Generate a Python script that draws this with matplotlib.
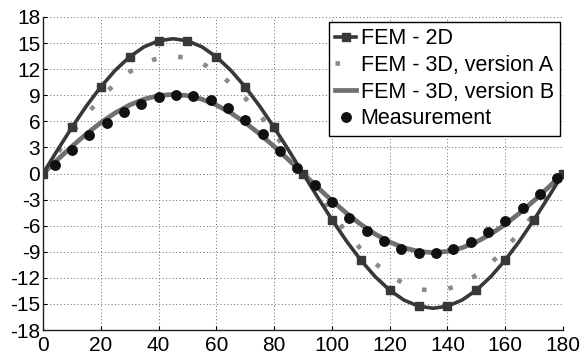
import matplotlib
matplotlib.use("Agg")
import matplotlib.pyplot as plt

plt.rcParams['font.family'] = ['Liberation Sans', 'DejaVu Sans']

# Angle grid for the simulated curves (degrees)
x_curve = [0, 5, 10, 15, 20, 25, 30, 35, 40, 45, 50, 55, 60, 65, 70, 75, 80, 85, 90,
           95, 100, 105, 110, 115, 120, 125, 130, 135, 140, 145, 150, 155, 160, 165, 170, 175, 180]

fem_2d = [0, 2.69, 5.30, 7.75, 9.96, 11.87, 13.42, 14.57, 15.26, 15.5, 15.26, 14.57, 13.42, 11.87,
          9.96, 7.75, 5.30, 2.69, 0, -2.69, -5.30, -7.75, -9.96, -11.87, -13.42, -14.57, -15.26,
          -15.5, -15.26, -14.57, -13.42, -11.87, -9.96, -7.75, -5.30, -2.69, 0]

fem_3d_a = [0, 2.34, 4.62, 6.75, 8.68, 10.34, 11.69, 12.69, 13.29, 13.5, 13.29, 12.69, 11.69, 10.34,
            8.68, 6.75, 4.62, 2.34, 0, -2.34, -4.62, -6.75, -8.68, -10.34, -11.69, -12.69, -13.29,
            -13.5, -13.29, -12.69, -11.69, -10.34, -8.68, -6.75, -4.62, -2.34, 0]

fem_3d_b = [0, 1.58, 3.11, 4.55, 5.85, 6.97, 7.88, 8.55, 8.96, 9.1, 8.96, 8.55, 7.88, 6.97,
            5.85, 4.55, 3.11, 1.58, 0, -1.58, -3.11, -4.55, -5.85, -6.97, -7.88, -8.55, -8.96,
            -9.1, -8.96, -8.55, -7.88, -6.97, -5.85, -4.55, -3.11, -1.58, 0]

# Measurement points
x_meas = [4, 10, 16, 22, 28, 34, 40, 46, 52, 58, 64, 70, 76, 82, 88,
          94, 100, 106, 112, 118, 124, 130, 136, 142, 148, 154, 160, 166, 172, 178]
meas = [0.98, 2.74, 4.43, 5.77, 7.07, 8.03, 8.80, 9.06, 8.91, 8.42, 7.50, 6.12, 4.54, 2.62, 0.67,
        -1.32, -3.24, -5.08, -6.61, -7.76, -8.68, -9.11, -9.11, -8.65, -7.84, -6.69, -5.43, -3.93, -2.36, -0.55]

x_ticks = [0, 20, 40, 60, 80, 100, 120, 140, 160, 180]
y_ticks = [-18, -15, -12, -9, -6, -3, 0, 3, 6, 9, 12, 15, 18]

labels = ['FEM - 2D', 'FEM - 3D, version A', 'FEM - 3D, version B', 'Measurement']

fig = plt.figure(figsize=(5.83, 3.55), dpi=100)
ax = fig.add_axes([43/583, 1-330/355, 520/583, 313/355])

ax.plot(x_curve, fem_3d_b, color='#707070', lw=3.4, label=labels[2], zorder=3)
ax.plot(x_curve, fem_3d_a, color='#8a8a8a', lw=3.3, ls=(0, (1, 4.8)),
        dash_capstyle='butt', label=labels[1], zorder=3)
ax.plot(x_curve, fem_2d, color='#383838', lw=2.6, marker='s', markersize=6,
        markevery=2, label=labels[0], zorder=4)
ax.plot(x_meas, meas, ls='none', marker='o', color='#111111', markersize=6.8,
        label=labels[3], zorder=5)

ax.set_xlim(0, 180)
ax.set_ylim(-18, 18)
ax.set_xticks(x_ticks)
ax.set_yticks(y_ticks)
ax.set_xticklabels([str(v) for v in x_ticks])
ax.set_yticklabels([str(v) for v in y_ticks])
ax.tick_params(direction='in', length=3, labelsize=15, colors='black')
ax.tick_params(axis='x', pad=4)
ax.tick_params(axis='y', pad=2)
ax.grid(True, ls=(0, (1, 2.5)), color='#666666', lw=0.7)
for s in ['top', 'right']:
    ax.spines[s].set_visible(False)
for s in ['left', 'bottom']:
    ax.spines[s].set_linewidth(1.0)
    ax.spines[s].set_color('#222222')

handles, labs = ax.get_legend_handles_labels()
order = [labs.index(l) for l in labels]
leg = ax.legend([handles[i] for i in order], [labs[i] for i in order],
                loc='upper right', bbox_to_anchor=(0.994, 0.984), borderaxespad=0,
                fontsize=15.5, handlelength=1.0, handletextpad=0.2, labelspacing=0.27,
                borderpad=0.28, fancybox=False, framealpha=1, edgecolor='black')
leg.get_frame().set_linewidth(1.0)

fig.savefig('out.png', dpi=100)
